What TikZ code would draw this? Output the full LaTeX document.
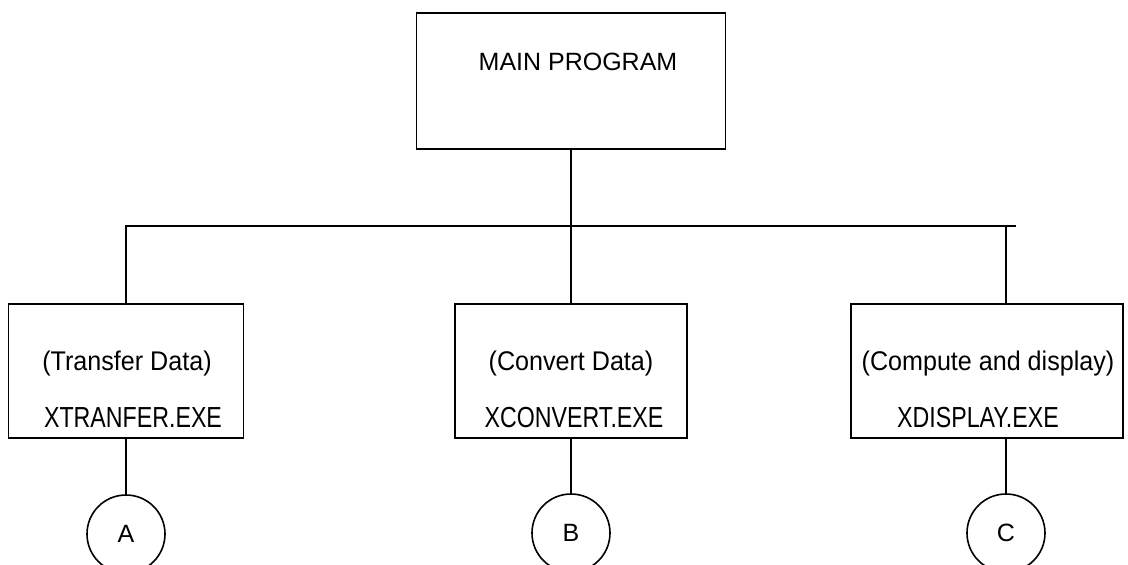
\documentclass[tikz,border=0pt]{standalone}
\usepackage{fontspec}
\setmainfont{Liberation Sans}
\newfontfamily\notefont{Liberation Sans}[FakeStretch=0.93]
\newfontfamily\exefont{Liberation Sans}[FakeStretch=0.8]
\usepackage{tikz}

\begin{document}
\begin{tikzpicture}[x=1pt,y=-1pt,line width=1.6pt,
    progbox/.style={draw,rectangle,minimum width=#1,minimum height=134pt,inner sep=0pt},
    bubble/.style={draw,circle,minimum size=78pt,inner sep=0pt,font=\fontsize{25}{30}\selectfont},
    notetext/.style={anchor=base,font=\notefont\fontsize{27}{32}\selectfont},
    exetext/.style={anchor=base,font=\exefont\fontsize{29}{34}\selectfont}]
  \useasboundingbox (0,0) rectangle (1128,565);
  % top level
  \node[draw,minimum width=309pt,minimum height=136pt,inner sep=0pt] (main) at (571,81) {};
  \node[anchor=base,font=\fontsize{25}{30}\selectfont] (maintxt) at (578,70) {MAIN PROGRAM};
  % the three programs
  \node[progbox=235pt] (xfer) at (126,371) {};
  \node[notetext] (xferA) at (127,370) {(Transfer Data)};
  \node[exetext] (xferB) at (133,427) {XTRANFER.EXE};
  \node[progbox=232pt] (xconv) at (571,371) {};
  \node[notetext] (xconvA) at (571,370) {(Convert Data)};
  \node[exetext] (xconvB) at (574,427) {XCONVERT.EXE};
  \node[progbox=272pt] (xdisp) at (987,371) {};
  \node[notetext] (xdispA) at (988,370) {(Compute and display)};
  \node[exetext] (xdispB) at (978,427) {XDISPLAY.EXE};
  % connectors
  \node[bubble] (cA) at (126,534) {A};
  \node[bubble] (cB) at (571,533) {B};
  \node[bubble] (cC) at (1006,533) {C};
  \coordinate (hub) at (571,226);
  \coordinate (busR) at (1016,226);
  \coordinate (tapC) at (1006,226);
  \draw (main.south) -- (hub);
  \draw (xfer.north) |- (busR);
  \draw (hub) -- (xconv.north);
  \draw (tapC) -- (tapC |- xdisp.north);
  \draw (xfer.south) -- (cA.north);
  \draw (xconv.south) -- (cB.north);
  \draw (cC.north |- xdisp.south) -- (cC.north);
\end{tikzpicture}
\end{document}
